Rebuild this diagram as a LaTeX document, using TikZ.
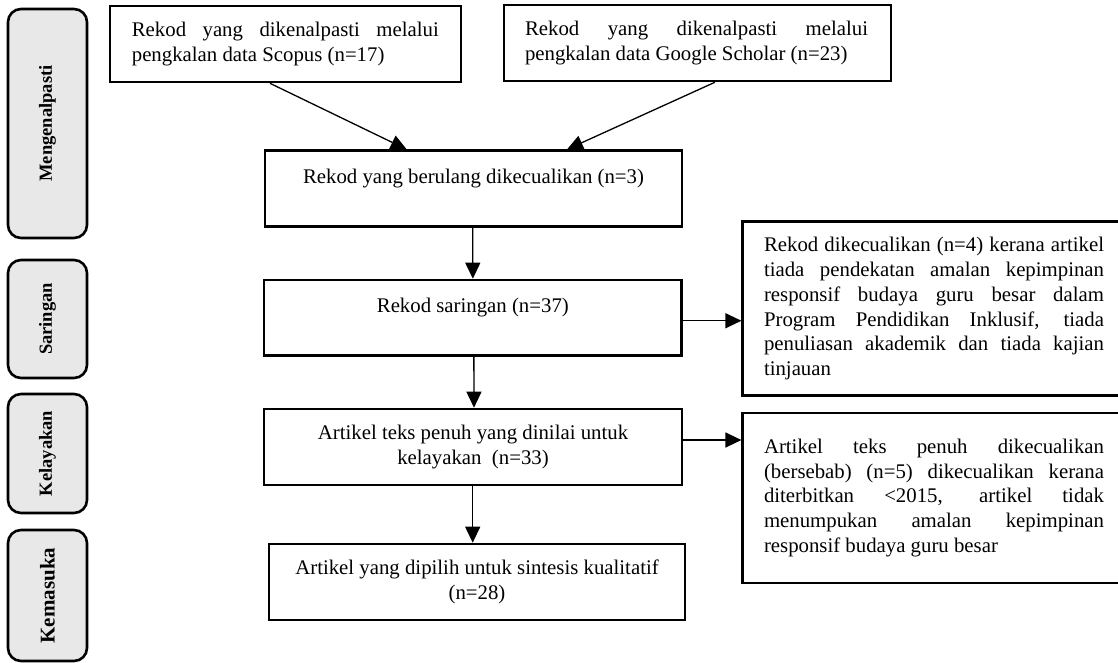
\documentclass[tikz,border=0pt]{standalone}
\usepackage{fontspec}
\setmainfont{Liberation Serif}
\usetikzlibrary{arrows.meta}
\begin{document}
\begin{tikzpicture}[x=1pt,y=-1pt,
  box/.style={draw, line width=2.6pt, inner sep=0pt, align=center,
    font=\fontsize{20.8}{24.7}\selectfont},
  stage/.style={draw, line width=2.6pt, rounded corners=13pt, fill=black!9,
    minimum width=79pt, inner sep=0pt},
  stagelbl/.style={rotate=90, font=\bfseries\fontsize{18.5}{22}\selectfont},
  arr/.style={line width=1.3pt, -{Triangle[length=16pt,width=15pt]}}]
\useasboundingbox (0,0) rectangle (1118,662);
\clip (0,0) rectangle (1118,662);
\hyphenpenalty=10000 \exhyphenpenalty=10000
% stage boxes
\node[stage, minimum height=229pt] (s1) at (47.5,123.5) {};
\node[stagelbl] (l1) at (s1.center) {Mengenalpasti};
\node[stage, minimum height=118pt] (s2) at (47.5,319) {};
\node[stagelbl] (l2) at (s2.center) {Saringan};
\node[stage, minimum height=119pt] (s3) at (47.5,453.5) {};
\node[stagelbl] (l3) at (s3.center) {Kelayakan};
\node[stage, minimum height=131pt] (s4) at (47.5,595.5) {};
\node[stagelbl, font=\bfseries\fontsize{21}{25}\selectfont] (l4) at (s4.center) {Kemasuka};
% flow boxes
\node[box, minimum width=351pt, minimum height=76pt] (b1) at (285.35,44)
  {\parbox{307pt}{\hyphenpenalty=10000 Rekod yang dikenalpasti melalui\linebreak pengkalan data Scopus (n=17)}};
\node[box, minimum width=387pt, minimum height=76pt] (b2) at (697.5,43)
  {\parbox{343pt}{\hyphenpenalty=10000 Rekod yang dikenalpasti melalui\linebreak pengkalan data Google Scholar (n=23)}\hspace*{2pt}};
\node[box, minimum width=417pt, minimum height=76pt] (b3) at (473.5,188.7)
  {Rekod yang berulang dikecualikan (n=3)\\ \mbox{}};
\node[box, minimum width=417.7pt, minimum height=75.5pt] (b4) at (472.85,317.75)
  {Rekod saringan (n=37)\\ \mbox{}};
\node[box, minimum width=418pt, minimum height=76pt] (b5) at (473,447)
  {Artikel teks penuh yang dinilai untuk\\ kelayakan\ \ (n=33)};
\node[box, minimum width=416pt, minimum height=76pt] (b6) at (477,582)
  {Artikel yang dipilih untuk sintesis kualitatif\\ (n=28)};
\node[box, minimum width=400pt, minimum height=174pt] (ra) at (942.7,308.7)
  {\parbox{340pt}{\hyphenpenalty=10000 Rekod dikecualikan (n=4) kerana artikel\linebreak tiada pendekatan amalan kepimpinan\linebreak responsif budaya guru besar dalam\linebreak Program Pendidikan Inklusif, tiada\linebreak penuliasan akademik dan tiada kajian\linebreak tinjauan}\hspace*{17.4pt}};
\node[box, minimum width=400pt, minimum height=170pt] (rb) at (942.7,498)
  {\parbox{340pt}{\hyphenpenalty=10000 Artikel teks penuh dikecualikan\linebreak (bersebab) (n=5) dikecualikan kerana\linebreak diterbitkan \textless2015, artikel tidak\linebreak menumpukan amalan kepimpinan\linebreak responsif budaya guru besar}\hspace*{17.4pt}};
% connectors
\draw[arr] ([xshift=-15.35pt]b1.south) -- ([xshift=-66.8pt]b3.north);
\draw[arr] ([xshift=17.3pt]b2.south) -- ([xshift=93.5pt]b3.north);
\draw[arr] ([xshift=-0.8pt]b3.south) -- ([xshift=0pt]b4.north);
\draw[arr] ([xshift=1pt]b4.south) -- ([xshift=1pt]b5.north);
\draw[arr] ([xshift=-0.3pt]b5.south) -- ([xshift=-4.3pt]b6.north);
\draw[arr] ([yshift=-3pt]b4.east) -- ([yshift=-3pt]b4.east -| ra.west);
\draw[arr] ([yshift=7pt]b5.east) -- ([yshift=7pt]b5.east -| rb.west);
\end{tikzpicture}
\end{document}
